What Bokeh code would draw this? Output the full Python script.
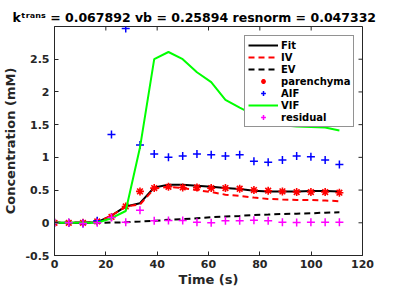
from bokeh.plotting import figure
from bokeh.models import Legend, LegendItem, FixedTicker, NumeralTickFormatter
from bokeh.embed import file_html
from bokeh.resources import INLINE

# ---- data ----
time_s = [0, 5.55, 11.1, 16.65, 22.2, 27.75, 33.3, 38.85, 44.4, 49.95, 55.5,
          61.05, 66.6, 72.15, 77.7, 83.25, 88.8, 94.35, 99.9, 105.45, 111.0]
fit = [0, 0, 0, 0.01, 0.11, 0.25, 0.30, 0.54, 0.58, 0.58, 0.565,
       0.55, 0.53, 0.515, 0.49, 0.48, 0.48, 0.48, 0.485, 0.485, 0.48]
iv = [0, 0, 0, 0.01, 0.11, 0.25, 0.28, 0.52, 0.55, 0.53, 0.50,
      0.47, 0.43, 0.41, 0.385, 0.365, 0.355, 0.35, 0.35, 0.34, 0.33]
ev = [0, 0, 0, 0, 0.003, 0.008, 0.018, 0.03, 0.045, 0.055, 0.07,
      0.085, 0.095, 0.105, 0.12, 0.125, 0.135, 0.14, 0.145, 0.155, 0.16]
parenchyma = [0, 0, 0, 0.02, 0.09, 0.25, 0.48, 0.53, 0.55, 0.54, 0.54,
              0.53, 0.53, 0.52, 0.50, 0.49, 0.48, 0.47, 0.47, 0.47, 0.46]
aif = [0, 0, -0.01, 0.03, 1.35, 2.97, 1.19, 1.05, 1.00, 1.02, 1.05,
       1.04, 1.02, 1.04, 0.94, 0.925, 0.96, 1.02, 1.01, 0.96, 0.89]
vif = [0, 0, 0, 0, 0.07, 0.18, 1.15, 2.5, 2.61, 2.5, 2.3,
       2.15, 1.88, 1.76, 1.65, 1.55, 1.49, 1.47, 1.465, 1.455, 1.41]
residual = [0, 0, -0.01, 0.0, 0.08, 0.01, 0.19, 0.03, 0.035, 0.035, 0.01,
            0.0, 0.03, 0.03, 0.04, 0.03, 0.01, 0.005, 0.01, 0.01, 0.01]

x_min, x_max = 0, 120
y_min, y_max = -0.5, 3
x_ticks = [0, 20, 40, 60, 80, 100, 120]
y_ticks = [-0.5, 0, 0.5, 1, 1.5, 2, 2.5]
title_text = "k\u1d57\u02b3\u1d43\u207f\u02e2 = 0.067892 vb = 0.25894 resnorm = 0.047332"
x_label = "Time (s)"
y_label = "Concentration (mM)"

FONT = "DejaVu Sans"
AX = "#262626"

p = figure(width=384, height=289, x_range=(x_min, x_max), y_range=(y_min, y_max),
           output_backend="svg", toolbar_location=None,
           min_border_left=52, min_border_right=22, min_border_top=26,
           min_border_bottom=0)
p.title.text = title_text
p.title.text_font = FONT
p.title.text_font_style = "bold"
p.title.text_font_size = "12.5px"
p.title.text_color = "black"
p.title.align = "left"
p.title.offset = -42
p.title.standoff = 3
p.xgrid.visible = False
p.ygrid.visible = False
p.outline_line_color = AX
p.background_fill_color = "white"
p.border_fill_color = "white"

r_fit = p.line(time_s, fit, line_color="black", line_width=2)
r_iv = p.line(time_s, iv, line_color="red", line_width=2, line_dash="6 4")
r_ev = p.line(time_s, ev, line_color="black", line_width=2, line_dash="6 4")
r_par = p.scatter(time_s, parenchyma, marker="asterisk", size=8,
                  line_color="red", line_width=1.6)
r_aif = p.scatter(time_s, aif, marker="cross", size=8,
                  line_color="blue", line_width=1.5)
r_vif = p.line(time_s, vif, line_color="#00ff00", line_width=2)
r_res = p.scatter(time_s, residual, marker="cross", size=8,
                  line_color="#ff00ff", line_width=1.5)

# inner tick marks on the top and right edges of the box
p.scatter(x_ticks, [y_max] * len(x_ticks), marker="dash", angle=1.5708,
          size=8, line_color=AX, line_width=1)
p.scatter([x_max] * len(y_ticks), y_ticks, marker="dash",
          size=8, line_color=AX, line_width=1)

def style_axis(ax, ticks):
    ax.ticker = FixedTicker(ticks=ticks)
    ax.major_tick_in = 4
    ax.major_tick_out = 0
    ax.minor_tick_line_color = None
    ax.axis_line_color = AX
    ax.major_tick_line_color = AX
    ax.major_label_text_font = FONT
    ax.major_label_text_font_style = "bold"
    ax.major_label_text_font_size = "11px"
    ax.major_label_text_color = AX
    ax.axis_label_text_font = FONT
    ax.axis_label_text_font_style = "bold"
    ax.axis_label_text_font_size = "13px"
    ax.axis_label_text_color = AX

style_axis(p.xaxis[0], x_ticks)
style_axis(p.yaxis[0], y_ticks)
p.xaxis[0].axis_label = x_label
p.yaxis[0].axis_label = y_label
p.xaxis[0].major_label_standoff = 4
p.xaxis[0].axis_label_standoff = 1
p.yaxis[0].major_label_standoff = 5
p.yaxis[0].axis_label_standoff = 4
p.yaxis[0].formatter = NumeralTickFormatter(format="0.[0]")

legend = Legend(items=[
    LegendItem(label="Fit", renderers=[r_fit]),
    LegendItem(label="IV", renderers=[r_iv]),
    LegendItem(label="EV", renderers=[r_ev]),
    LegendItem(label="parenchyma", renderers=[r_par]),
    LegendItem(label="AIF", renderers=[r_aif]),
    LegendItem(label="VIF", renderers=[r_vif]),
    LegendItem(label="residual", renderers=[r_res]),
], location=(190, 128))
legend.label_text_font = FONT
legend.label_text_font_style = "bold"
legend.label_text_font_size = "10px"
legend.label_text_color = "black"
legend.label_height = 12
legend.glyph_height = 12
legend.glyph_width = 30
legend.label_standoff = 3
legend.spacing = 0
legend.padding = 3
legend.margin = 0
legend.border_line_color = AX
legend.border_line_width = 1
legend.background_fill_color = "white"
legend.background_fill_alpha = 1
p.add_layout(legend, "center")

open("out.html", "w").write(file_html(p, INLINE))
